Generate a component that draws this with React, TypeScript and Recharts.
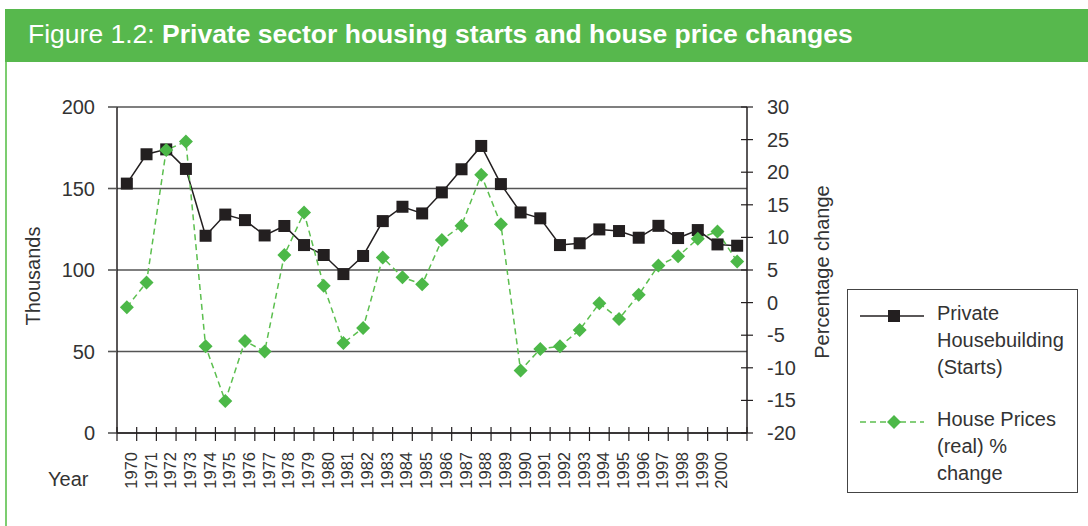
import { LineChart, Line, XAxis, YAxis, CartesianGrid } from "recharts";

// 32 plotted points; the source only labels the first 31 categories
const YEARS = [
  "1970", "1971", "1972", "1973", "1974", "1975", "1976", "1977", "1978", "1979",
  "1980", "1981", "1982", "1983", "1984", "1985", "1986", "1987", "1988", "1989",
  "1990", "1991", "1992", "1993", "1994", "1995", "1996", "1997", "1998", "1999",
  "2000", "",
];

// Private housebuilding starts, thousands
const STARTS = [
  153, 171, 174, 162, 121, 134, 130.6, 121.2, 127, 115.3,
  109.2, 97.5, 108.6, 130, 138.8, 134.7, 147.6, 161.8, 176.1, 152.7,
  135.3, 131.7, 115.3, 116.4, 124.9, 123.9, 119.8, 127.1, 119.6, 124.5,
  115.7, 114.9,
];

// House prices (real), % change
const PRICES = [
  -0.7, 3.1, 23.4, 24.7, -6.7, -15.1, -5.9, -7.5, 7.3, 13.8,
  2.6, -6.2, -3.9, 6.9, 3.9, 2.8, 9.6, 11.8, 19.6, 12.0,
  -10.4, -7.1, -6.7, -4.2, -0.1, -2.5, 1.2, 5.7, 7.1, 9.8,
  10.9, 6.3,
];

const LEFT_TICKS = [0, 50, 100, 150, 200];
const RIGHT_TICKS = [-20, -15, -10, -5, 0, 5, 10, 15, 20, 25, 30];

const data = YEARS.map((year, i) => ({ idx: i, year, starts: STARTS[i], prices: PRICES[i] }));

// ticks at every category centre (labels) and every boundary (tick marks)
const xTicks: number[] = [];
for (let i = 0; i < YEARS.length; i++) {
  xTicks.push(i - 0.5, i);
}
xTicks.push(YEARS.length - 0.5);

const TEXT = "#333333";
const FONT = "'Liberation Sans', Arial, sans-serif";
const GREEN = "#57b84d";
const DARK = "#231f20";

const XTick = (props: any) => {
  const { x, y, payload } = props;
  const v = payload.value;
  if (Number.isInteger(v)) {
    const tx = x + 4;
    const ty = y + 19;
    return (
      <text
        x={tx}
        y={ty}
        transform={`rotate(-90, ${tx}, ${ty})`}
        textAnchor="end"
        dominantBaseline="central"
        fontSize={16.5}
        fill={TEXT}
        fontFamily={FONT}
      >
        {YEARS[v]}
      </text>
    );
  }
  return <line x1={x} x2={x} y1={y - 6} y2={y + 8} stroke={DARK} strokeWidth={1.2} />;
};

const RightTick = (props: any) => {
  const { x, y, payload } = props;
  const ax = x - 20;
  return (
    <g>
      <line x1={ax - 6} x2={ax + 6} y1={y} y2={y} stroke={DARK} strokeWidth={1.2} />
      <text x={x} y={y} dominantBaseline="central" fontSize={20} fill={TEXT} fontFamily={FONT}>
        {payload.value}
      </text>
    </g>
  );
};

const SquareDot = (props: any) => {
  const { cx, cy, index } = props;
  return <rect key={index} x={cx - 6} y={cy - 6} width={12} height={12} fill={DARK} />;
};

const DiamondDot = (props: any) => {
  const { cx, cy, index } = props;
  const r = 7;
  return (
    <polygon
      key={index}
      points={`${cx},${cy - r} ${cx + r},${cy} ${cx},${cy + r} ${cx - r},${cy}`}
      fill="#4cb848"
    />
  );
};

const legendText: React.CSSProperties = {
  position: "absolute",
  left: 89,
  fontSize: 20,
  lineHeight: "27px",
  color: TEXT,
};

const Legend = () => (
  <div
    style={{
      position: "absolute",
      left: 847,
      top: 289,
      width: 231,
      height: 204,
      border: "1px solid #444",
      fontFamily: FONT,
      boxSizing: "border-box",
    }}
  >
    <svg style={{ position: "absolute", left: 0, top: 0 }} width={230} height={203}>
      <line x1={12} x2={76} y1={26} y2={26} stroke={DARK} strokeWidth={1.5} />
      <rect x={40} y={20} width={12} height={12} fill={DARK} />
      <line x1={12} x2={76} y1={132} y2={132} stroke="#5cbf4f" strokeWidth={1.5} strokeDasharray="6 4" />
      <polygon points="46,125 53,132 46,139 39,132" fill="#4cb848" />
    </svg>
    <div style={{ ...legendText, top: 10 }}>
      Private
      <br />
      Housebuilding
      <br />
      (Starts)
    </div>
    <div style={{ ...legendText, top: 116 }}>
      House Prices
      <br />
      (real) %
      <br />
      change
    </div>
  </div>
);

export default function App() {
  return (
    <div
      style={{
        position: "absolute",
        left: 0,
        top: 0,
        width: 1088,
        height: 526,
        background: "#fff",
        fontFamily: FONT,
        overflow: "hidden",
      }}
    >
      {/* title bar */}
      <div
        style={{
          position: "absolute",
          left: 5,
          top: 9,
          width: 1083,
          height: 53,
          background: GREEN,
          color: "#fff",
          fontSize: 26.5,
          lineHeight: "51px",
          paddingLeft: 23,
          boxSizing: "border-box",
          whiteSpace: "nowrap",
        }}
      >
        Figure 1.2: <b>Private sector housing starts and house price changes</b>
      </div>
      <div style={{ position: "absolute", left: 5, top: 62, width: 2, height: 464, background: "#7ccd70" }} />

      <LineChart
        width={1088}
        height={526}
        data={data}
        margin={{ top: 107, right: 261, bottom: 33, left: 0 }}
        style={{ position: "absolute", left: 0, top: 0 }}
      >
        <CartesianGrid yAxisId="left" vertical={false} stroke="#555" strokeWidth={1.6} />
        <XAxis
          dataKey="idx"
          type="number"
          domain={[-0.5, YEARS.length - 0.5]}
          ticks={xTicks}
          interval={0}
          height={60}
          tickSize={0}
          tickMargin={0}
          tick={<XTick />}
          axisLine={{ stroke: DARK, strokeWidth: 1.5 }}
          tickLine={false}
        />
        <YAxis
          yAxisId="left"
          orientation="left"
          width={117}
          domain={[0, 200]}
          ticks={LEFT_TICKS}
          tickSize={9}
          tickMargin={13}
          tick={{ fontSize: 20, fill: TEXT, fontFamily: FONT }}
          tickLine={{ stroke: "#555", strokeWidth: 1.6 }}
          axisLine={{ stroke: DARK, strokeWidth: 1.5 }}
        />
        <YAxis
          yAxisId="right"
          orientation="right"
          width={80}
          domain={[-20, 30]}
          ticks={RIGHT_TICKS}
          interval={0}
          tickSize={0}
          tickMargin={20}
          tick={<RightTick />}
          tickLine={false}
          axisLine={{ stroke: DARK, strokeWidth: 1.5 }}
        />
        <Line
          yAxisId="left"
          dataKey="starts"
          stroke={DARK}
          strokeWidth={1.5}
          dot={<SquareDot />}
          isAnimationActive={false}
        />
        <Line
          yAxisId="right"
          dataKey="prices"
          stroke="#5cbf4f"
          strokeWidth={1.5}
          strokeDasharray="6 4"
          dot={<DiamondDot />}
          isAnimationActive={false}
        />
      </LineChart>

      <div
        style={{
          position: "absolute",
          left: 33,
          top: 276,
          transform: "translate(-50%, -50%) rotate(-90deg)",
          fontSize: 20,
          color: TEXT,
          whiteSpace: "nowrap",
        }}
      >
        Thousands
      </div>
      <div
        style={{
          position: "absolute",
          left: 822,
          top: 272,
          transform: "translate(-50%, -50%) rotate(-90deg)",
          fontSize: 20,
          color: TEXT,
          whiteSpace: "nowrap",
        }}
      >
        Percentage change
      </div>
      <div style={{ position: "absolute", left: 48, top: 468, fontSize: 20, color: TEXT }}>Year</div>

      <Legend />
    </div>
  );
}
